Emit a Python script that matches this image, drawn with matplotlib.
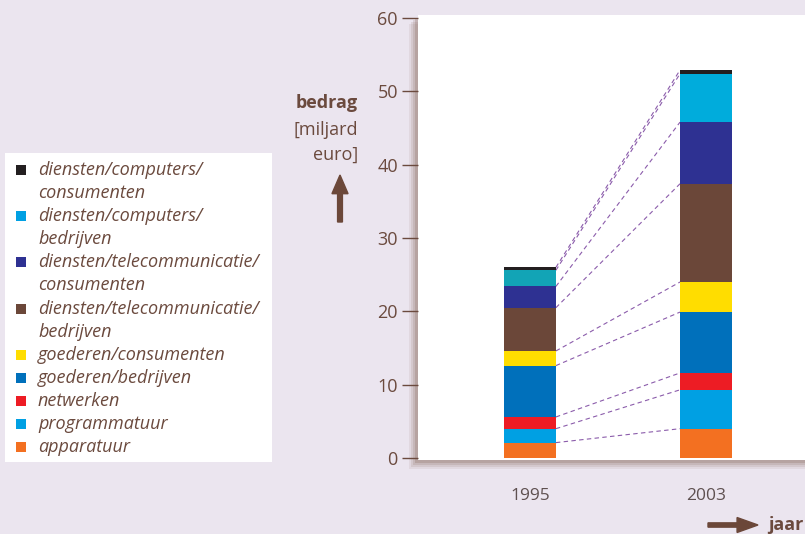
import matplotlib.pyplot as plt
from matplotlib.patches import Rectangle, FancyArrow
import numpy as np

plt.rcParams['font.family'] = ['Open Sans', 'DejaVu Sans']

years = ['1995', '2003']
# stacked from bottom to top
series = ['apparatuur', 'programmatuur', 'netwerken', 'goederen/bedrijven',
          'goederen/consumenten', 'diensten/telecommunicatie/\nbedrijven',
          'diensten/telecommunicatie/\nconsumenten', 'diensten/computers/\nbedrijven',
          'diensten/computers/\nconsumenten']
vals_1995 = [2.1, 1.9, 1.6, 7.0, 2.0, 5.9, 2.9, 2.2, 0.4]
vals_2003 = [4.0, 5.3, 2.3, 8.3, 4.1, 13.4, 8.4, 6.6, 0.5]
colors = ['#f37021', '#00a0e3', '#ed1c24', '#0070bb', '#ffdd00',
          '#6b4739', '#2e3192', ['#12a4b6', '#00acdc'], '#231f20']
legend_colors = ['#f37021', '#00a0e3', '#ed1c24', '#0070bb', '#ffdd00',
                 '#6b4739', '#2e3192', '#00a0e3', '#231f20']

BG = '#ebe5ef'
BROWN = '#6b4a3e'

W, H = 805, 534
fig = plt.figure(figsize=(W / 100, H / 100), dpi=100)
fig.patch.set_facecolor(BG)

def fx(px):
    return px / W

def fy(py):
    return 1 - py / H

# soft shadow behind the plot panel
for i, a in enumerate([0.10, 0.14, 0.18, 0.26]):
    off = 9 - i * 2
    fig.patches.append(Rectangle((fx(418 - off), fy(460 + off)), fx(W), (460 - 15) / H,
                                 transform=fig.transFigure, facecolor='#8a6a60',
                                 alpha=a, edgecolor='none', zorder=0))

ax = fig.add_axes([fx(418), fy(460), fx(W) - fx(418), (460 - 15) / H])
ax.set_facecolor('white')
ax.set_zorder(2)

x = np.arange(len(years))
w = 0.295
data = np.array([vals_1995, vals_2003])
bottoms = np.zeros(2)
tops = []
for i, s in enumerate(series):
    v = data[:, i]
    ax.bar(x, v, w, bottom=bottoms, color=colors[i], edgecolor='none', zorder=3)
    bottoms = bottoms + v
    tops.append(bottoms.copy())

for t in tops:
    ax.plot([x[0] + w / 2, x[1] - w / 2], [t[0], t[1]], color='#8b5cab',
            lw=0.8, dashes=(4, 3), zorder=2)

ax.set_xlim(-0.636, 1.5625)
ax.set_ylim(-0.27, 60.41)
ax.set_yticks(range(0, 61, 10))
ax.set_xticks(x)
ax.set_xticklabels(years)
for sp in ax.spines.values():
    sp.set_visible(False)
ax.tick_params(axis='y', length=11.5, width=1, color=BROWN, pad=3,
               labelsize=13, labelcolor=BROWN)
ax.tick_params(axis='x', length=0, pad=20, labelsize=12.5, labelcolor='#5e5050')

# y-axis title and arrow
fig.text(fx(358), fy(103), 'bedrag', ha='right', va='center', fontsize=13,
         fontweight='bold', color=BROWN)
fig.text(fx(358), fy(130), '[miljard', ha='right', va='center', fontsize=13, color=BROWN)
fig.text(fx(358), fy(155), 'euro]', ha='right', va='center', fontsize=13, color=BROWN)
fig.patches.append(FancyArrow(fx(340), fy(222), 0, (222 - 175) / H, width=0.006,
                              head_width=0.02, head_length=0.035,
                              length_includes_head=True, transform=fig.transFigure,
                              color='#6b4739', zorder=5))

# x-axis title and arrow
fig.text(fx(768), fy(525), 'jaar', ha='left', va='center', fontsize=13,
         fontweight='bold', color=BROWN)
fig.patches.append(FancyArrow(fx(708), fy(525), (758 - 708) / W, 0, width=0.008,
                              head_width=0.028, head_length=0.026,
                              length_includes_head=True, transform=fig.transFigure,
                              color='#6b4739', zorder=5))

# legend panel
lax = fig.add_axes([fx(5), fy(462), fx(272) - fx(5), (462 - 153) / H])
lax.set_xlim(5, 272)
lax.set_ylim(462, 153)
lax.set_facecolor('white')
lax.set_xticks([])
lax.set_yticks([])
for sp in lax.spines.values():
    sp.set_visible(False)

line_y = 170
for i in range(len(series) - 1, -1, -1):
    label = series[i]
    lax.add_patch(Rectangle((16, line_y - 5), 10, 10, facecolor=legend_colors[i],
                            edgecolor='none'))
    for part in label.split('\n'):
        lax.text(38, line_y, part, ha='left', va='center', fontsize=13,
                 style='italic', color=BROWN)
        line_y += 23.1

fig.savefig('out.png', dpi=100, facecolor=fig.get_facecolor())
